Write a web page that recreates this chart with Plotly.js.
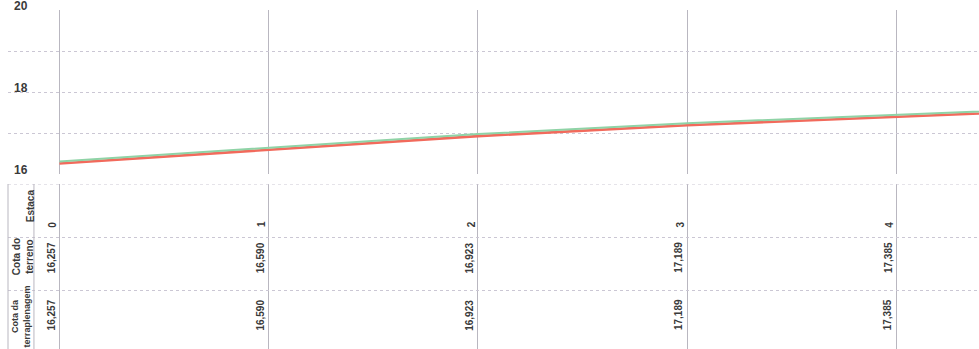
<!DOCTYPE html>
<html><head><meta charset="utf-8">
<script src="https://cdn.plot.ly/plotly-3.0.1.min.js"></script>
<style>html,body{margin:0;padding:0;background:#fff}#chart{width:979px;height:349px}</style>
</head><body><div id="chart"></div>
<script>
// ---- data ----
const estacas = [0, 1, 2, 3, 4, 5];
const cotaTerreno = [16.257, 16.590, 16.923, 17.189, 17.385, 17.600];
const cotaTerraplenagem = [16.257, 16.590, 16.923, 17.189, 17.385, 17.600];
const tabelaEstacas = [0, 1, 2, 3, 4];
const tabelaTerreno = [16.257, 16.590, 16.923, 17.189, 17.385];
const tabelaTerraplenagem = [16.257, 16.590, 16.923, 17.189, 17.385];
const rowLabels = ['Estaca', 'Cota do<br>terreno', 'Cota da<br>terraplenagem'];
const yTickVals = [16, 17, 18, 19, 20];
const yTickText = ['16', '', '18', '', '20'];

const fmt = v => v.toFixed(3).replace('.', ',');

const gridH = '#cbc7d4';
const gridV = '#b9b7c0';
const tableFont = {family: 'Liberation Sans Narrow, Arial Narrow, sans-serif', size: 10, color: '#3a3a3a'};

const traces = [
  {x: estacas, y: cotaTerraplenagem, type: 'scatter', mode: 'lines', name: 'Cota da terraplenagem',
   line: {color: '#f26a5c', width: 2.6}, xaxis: 'x', yaxis: 'y', hoverinfo: 'skip'},
  {x: estacas, y: cotaTerreno, type: 'scatter', mode: 'lines', name: 'Cota do terreno',
   line: {color: '#8fd3a6', width: 2}, xaxis: 'x', yaxis: 'y3', hoverinfo: 'skip'}
];

const annotations = [];
const labelPos = [{xs: 22, y: 2.58, size: 10}, {xs: 15, y: 1.62, size: 10}, {xs: 13, y: 0.5, size: 9}];
rowLabels.forEach((t, i) => annotations.push({
  xref: 'paper', yref: 'y2', x: 0, y: labelPos[i].y, xshift: labelPos[i].xs,
  text: '<b>' + t + '</b>', textangle: -90, showarrow: false,
  xanchor: 'center', yanchor: 'middle', font: Object.assign({}, tableFont, {size: labelPos[i].size}), align: 'center'
}));
tabelaEstacas.forEach((s, i) => {
  annotations.push({xref: 'x', yref: 'y2', x: s, y: 2.24, xshift: -7, text: '<b>' + s + '</b>',
    textangle: -90, showarrow: false, xanchor: 'center', yanchor: 'middle', font: tableFont});
  annotations.push({xref: 'x', yref: 'y2', x: s, y: 1.61, xshift: -8, text: '<b>' + fmt(tabelaTerreno[i]) + '</b>',
    textangle: -90, showarrow: false, xanchor: 'center', yanchor: 'middle', font: tableFont});
  annotations.push({xref: 'x', yref: 'y2', x: s, y: 0.53, xshift: -8, text: '<b>' + fmt(tabelaTerraplenagem[i]) + '</b>',
    textangle: -90, showarrow: false, xanchor: 'center', yanchor: 'middle', font: tableFont});
});

const shapes = [
  {type: 'line', xref: 'paper', yref: 'y2', x0: 0, x1: 1, y0: 3, y1: 3, line: {color: gridH, width: 1, dash: 'dot'}},
  {type: 'line', xref: 'paper', yref: 'y2', x0: 0, x1: 0, y0: -0.2, y1: 3, line: {color: gridV, width: 1}},
  {type: 'line', xref: 'x', yref: 'y2', x0: -0.122, x1: -0.122, y0: -0.2, y1: 3, line: {color: gridV, width: 1}}
];

const layout = {
  width: 979, height: 349,
  margin: {l: 8, r: 0, t: 10, b: 0},
  paper_bgcolor: '#fff', plot_bgcolor: '#fff',
  showlegend: false,
  xaxis: {domain: [0, 1], range: [-0.246, 4.395], anchor: 'y', tickvals: [0, 1, 2, 3, 4],
          showticklabels: false, ticks: '', showgrid: true, gridcolor: gridV, gridwidth: 1,
          zeroline: false, showline: false, fixedrange: true},
  yaxis: {domain: [0.5162, 1], range: [16, 20], anchor: 'x', tickvals: yTickVals, ticktext: yTickText,
          showgrid: true, gridcolor: gridH, griddash: 'dot', gridwidth: 1, zeroline: false, showline: false,
          ticks: '', ticklabelposition: 'inside', ticklabeloverflow: 'allow', ticklabelshift: -4, ticklabelstandoff: 3,
          tickfont: {family: 'Liberation Sans, Arial, sans-serif', size: 12, color: '#3a3a3a', weight: 'bold'},
          fixedrange: true},
  yaxis3: {overlaying: 'y', range: [15.95, 19.95], visible: false, showgrid: false, fixedrange: true},
  xaxis2: {domain: [0, 1], matches: 'x', anchor: 'y2', tickvals: [0, 1, 2, 3, 4], showticklabels: false,
           ticks: '', showgrid: true, gridcolor: gridV, gridwidth: 1, zeroline: false, showline: false, fixedrange: true},
  yaxis2: {domain: [0, 0.4867], range: [-0.113, 3], anchor: 'x2', tickvals: [1, 2], showticklabels: false,
           ticks: '', showgrid: true, gridcolor: gridH, griddash: 'dot', gridwidth: 1, zeroline: false, showline: false,
           fixedrange: true},
  annotations: annotations,
  shapes: shapes
};

Plotly.newPlot('chart', traces, layout, {displayModeBar: false, staticPlot: true});
</script>
</body></html>
